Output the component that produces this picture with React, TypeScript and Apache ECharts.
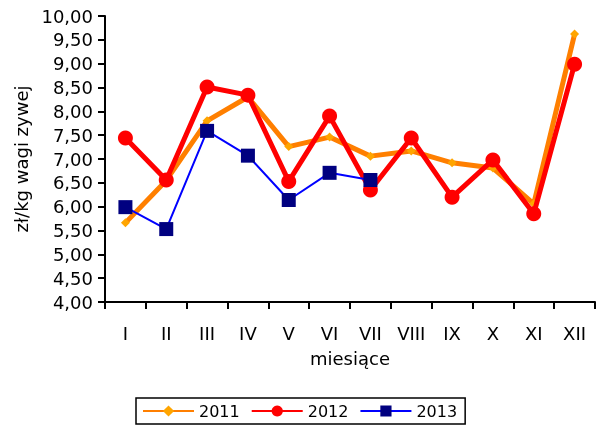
import React, { useEffect, useRef } from "react";
import * as echarts from "echarts";

const months = ["I", "II", "III", "IV", "V", "VI", "VII", "VIII", "IX", "X", "XI", "XII"];
const s2011 = [5.66, 6.55, 7.8, 8.3, 7.26, 7.46, 7.06, 7.17, 6.92, 6.81, 6.06, 9.62];
const s2012 = [7.44, 6.56, 8.51, 8.34, 6.53, 7.9, 6.35, 7.44, 6.2, 6.98, 5.85, 8.99];
const s2013 = [5.99, 5.53, 7.59, 7.07, 6.14, 6.71, 6.56, null, null, null, null, null];

export default function App() {
  const ref = useRef<HTMLDivElement>(null);
  useEffect(() => {
    const chart = echarts.init(ref.current!, undefined, { renderer: "svg" });
    const font = "DejaVu Sans, Verdana, sans-serif";
    chart.setOption({
      animation: false,
      textStyle: { fontFamily: font },
      grid: { left: 105, right: 1, top: 16, bottom: 124, outerBoundsMode: "none", containLabel: false },
      legend: {
        top: 398,
        left: 136,
        itemWidth: 51,
        itemHeight: 14,
        itemGap: 11,
        borderColor: "#000",
        borderWidth: 1.5,
        borderRadius: 0,
        padding: [4, 8, 4, 6],
        textStyle: { fontSize: 16, color: "#000", fontFamily: font, lineHeight: 18 },
        data: ["2011", "2012", "2013"],
      },
      xAxis: {
        type: "category",
        data: months,
        name: "miesiące",
        nameLocation: "middle",
        nameGap: 47,
        nameTextStyle: { fontSize: 18, color: "#000", fontFamily: font },
        axisLine: { lineStyle: { color: "#000", width: 2 } },
        axisTick: { show: true, length: 7, lineStyle: { color: "#000", width: 2 } },
        axisLabel: { fontSize: 18, color: "#000", margin: 22, fontFamily: font },
      },
      yAxis: {
        type: "value",
        min: 4,
        max: 10,
        interval: 0.5,
        name: "zł/kg wagi zywej",
        nameLocation: "middle",
        nameGap: 74,
        nameRotate: 90,
        nameTextStyle: { fontSize: 18, color: "#000", fontFamily: font },
        axisLine: { show: true, lineStyle: { color: "#000", width: 2 } },
        axisTick: { show: true, length: 7, lineStyle: { color: "#000", width: 2 } },
        splitLine: { show: false },
        axisLabel: {
          fontSize: 18,
          color: "#000",
          margin: 12,
          fontFamily: font,
          formatter: (v: number) => v.toFixed(2).replace(".", ","),
        },
      },
      series: [
        {
          name: "2011",
          type: "line",
          data: s2011,
          symbol: "diamond",
          symbolSize: 9,
          lineStyle: { color: "#FF7F00", width: 5 },
          itemStyle: { color: "#FFA500" },
          z: 2,
        },
        {
          name: "2012",
          type: "line",
          data: s2012,
          symbol: "circle",
          symbolSize: 15,
          lineStyle: { color: "#FF0000", width: 5 },
          itemStyle: { color: "#FF0000" },
          z: 3,
        },
        {
          name: "2013",
          type: "line",
          data: s2013,
          symbol: "rect",
          symbolSize: 14,
          connectNulls: false,
          lineStyle: { color: "#0000FF", width: 2 },
          itemStyle: { color: "#000080" },
          z: 4,
        },
      ],
    });
    return () => chart.dispose();
  }, []);
  return (
    <div
      ref={ref}
      style={{ position: "fixed", left: 0, top: 0, width: 596, height: 426 }}
    />
  );
}
